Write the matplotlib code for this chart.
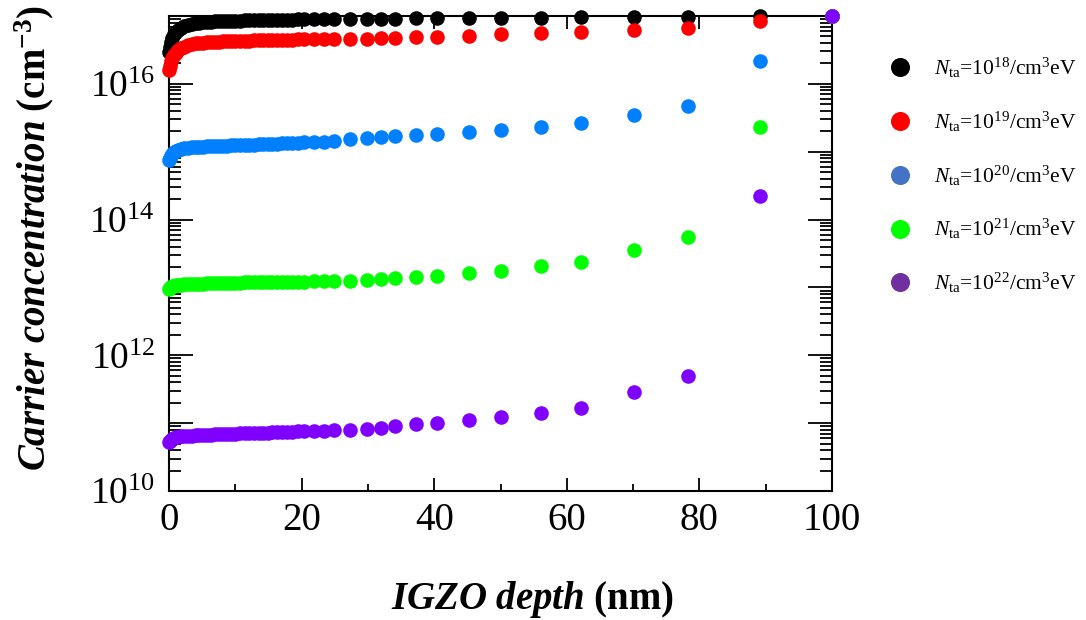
import numpy as np
import matplotlib
matplotlib.use("Agg")
import matplotlib.pyplot as plt
from matplotlib.ticker import LogLocator, FuncFormatter, MultipleLocator, NullFormatter
from matplotlib.lines import Line2D

plt.rcParams["font.family"] = ["Liberation Serif", "DejaVu Serif"]
plt.rcParams["mathtext.fontset"] = "custom"
plt.rcParams["mathtext.rm"] = "Liberation Serif"
plt.rcParams["mathtext.it"] = "Liberation Serif:italic"
plt.rcParams["mathtext.bf"] = "Liberation Serif:bold"
plt.rcParams["mathtext.bfit"] = "Liberation Serif:italic:bold"

# IGZO depth mesh (nm)
depth = [0, 0.1, 0.25, 0.45, 0.7, 1.0, 1.4, 1.8, 2.3, 2.8,
         3.4, 4.0, 4.6, 5.2, 5.8, 6.4, 7.0, 7.6, 8.2, 8.8,
         9.4, 10.0, 10.7, 11.4, 12.1, 12.8, 13.5, 14.2, 14.9, 15.6,
         16.3, 17.0, 17.8, 18.6, 19.4, 20.3, 21.8, 23.4, 24.9, 27.3,
         29.9, 32.0, 34.1, 37.2, 40.4, 45.2, 50.0, 56.1, 62.1, 70.1,
         78.3, 89.1, 100.0]

# log10 of carrier concentration (cm^-3) for each tail-state density
log_n_1e18 = [16.47, 16.55, 16.62, 16.68, 16.73, 16.77, 16.80, 16.83, 16.85, 16.87,
              16.88, 16.89, 16.90, 16.905, 16.91, 16.915, 16.92, 16.92, 16.925, 16.925,
              16.93, 16.93, 16.93, 16.935, 16.935, 16.935, 16.94, 16.94, 16.94, 16.94,
              16.945, 16.945, 16.945, 16.945, 16.95, 16.95, 16.95, 16.95, 16.955, 16.955,
              16.96, 16.96, 16.96, 16.965, 16.965, 16.97, 16.97, 16.975, 16.98, 16.985,
              16.99, 16.995, 17.0]

log_n_1e19 = [16.21, 16.27, 16.33, 16.38, 16.42, 16.46, 16.50, 16.53, 16.55, 16.57,
              16.585, 16.595, 16.60, 16.605, 16.61, 16.615, 16.62, 16.62, 16.625, 16.625,
              16.63, 16.63, 16.63, 16.635, 16.635, 16.64, 16.64, 16.64, 16.645, 16.645,
              16.645, 16.65, 16.65, 16.65, 16.655, 16.655, 16.66, 16.66, 16.665, 16.66,
              16.665, 16.67, 16.675, 16.685, 16.695, 16.71, 16.73, 16.75, 16.765, 16.80,
              16.83, 16.92, 17.0]

log_n_1e20 = [14.88, 14.91, 14.94, 14.97, 14.99, 15.01, 15.03, 15.045, 15.055, 15.06,
              15.065, 15.07, 15.072, 15.075, 15.077, 15.08, 15.082, 15.085, 15.087, 15.09,
              15.092, 15.095, 15.097, 15.10, 15.102, 15.105, 15.108, 15.11, 15.113, 15.116,
              15.12, 15.122, 15.125, 15.13, 15.133, 15.137, 15.143, 15.15, 15.16, 15.185,
              15.20, 15.215, 15.23, 15.25, 15.26, 15.29, 15.32, 15.37, 15.43, 15.54,
              15.67, 16.34, 17.0]

log_n_1e21 = [12.97, 12.99, 13.005, 13.015, 13.025, 13.03, 13.035, 13.04, 13.045, 13.048,
              13.05, 13.052, 13.054, 13.056, 13.058, 13.06, 13.062, 13.063, 13.065, 13.066,
              13.068, 13.07, 13.071, 13.073, 13.074, 13.075, 13.076, 13.077, 13.078, 13.079,
              13.08, 13.081, 13.082, 13.083, 13.084, 13.085, 13.088, 13.091, 13.095, 13.10,
              13.11, 13.12, 13.135, 13.15, 13.17, 13.21, 13.245, 13.315, 13.38, 13.555,
              13.74, 15.37, 17.0]

log_n_1e22 = [10.72, 10.74, 10.755, 10.77, 10.78, 10.79, 10.80, 10.805, 10.81, 10.813,
              10.816, 10.82, 10.823, 10.826, 10.829, 10.832, 10.835, 10.837, 10.84, 10.842,
              10.845, 10.847, 10.85, 10.852, 10.854, 10.856, 10.858, 10.86, 10.862, 10.864,
              10.866, 10.868, 10.871, 10.874, 10.877, 10.88, 10.885, 10.89, 10.895, 10.905,
              10.92, 10.935, 10.955, 10.985, 11.005, 11.045, 11.085, 11.15, 11.23, 11.46,
              11.69, 14.35, 17.0]

series = [log_n_1e18, log_n_1e19, log_n_1e20, log_n_1e21, log_n_1e22]
exponents = [18, 19, 20, 21, 22]
point_colors = ["#000000", "#FF0000", "#0080FF", "#00FF00", "#8000FF"]
legend_colors = ["#000000", "#FF0000", "#4472C4", "#00FF00", "#7030A0"]

fig = plt.figure(figsize=(10.86, 6.2), dpi=100)
ax = fig.add_axes([169 / 1086, 1 - 491 / 620, (832 - 169) / 1086, (491 - 16) / 620])

for vals, col in zip(series, point_colors):
    ax.plot(depth, 10 ** np.asarray(vals), linestyle="none", marker="o",
            markersize=10.5, markeredgewidth=0, color=col, clip_on=False, zorder=3)

ax.set_yscale("log")
ax.set_xlim(0, 100)
ax.set_ylim(1e10, 1e17)

ax.xaxis.set_major_locator(MultipleLocator(20))
ax.xaxis.set_minor_locator(MultipleLocator(10))
ax.yaxis.set_major_locator(LogLocator(base=10, numticks=20))
ax.yaxis.set_minor_locator(LogLocator(base=10, subs=np.arange(2, 10), numticks=20))
ax.yaxis.set_minor_formatter(NullFormatter())


def even_decade(v, pos):
    e = int(round(np.log10(v)))
    return r"$\mathdefault{10^{%d}}$" % e if e % 2 == 0 else ""


ax.yaxis.set_major_formatter(FuncFormatter(even_decade))

for s in ax.spines.values():
    s.set_linewidth(1.5)

ax.tick_params(which="both", direction="in", left=True, right=True, top=True, bottom=True,
               width=1.3)
ax.tick_params(axis="y", which="major", length=17, pad=10, labelsize=27)
ax.tick_params(axis="y", which="minor", length=8.6)
ax.tick_params(axis="x", which="major", length=9.5, pad=8, labelsize=28)
ax.tick_params(axis="x", which="minor", length=5)

fig.text(34 / 1086, 1 - 238 / 620,
         r"$\mathbfit{Carrier\ concentration}\ \mathbf{(cm^{-3})}$",
         rotation=90, ha="center", va="center", fontsize=28)
fig.text(532 / 1086, 1 - 600 / 620,
         r"$\mathbfit{IGZO\ depth}\ \mathbf{(nm)}$",
         ha="center", va="center", fontsize=28)

handles = [Line2D([], [], linestyle="none", marker="o", markersize=13.7,
                  markeredgewidth=0, color=c) for c in legend_colors]
labels = [r"$N_{\mathrm{ta}}$=10$^{%d}$/cm$^{3}$eV" % e for e in exponents]
fig.legend(handles, labels, loc="upper left", bbox_to_anchor=(889 / 1086, 1 - 56 / 620),
           frameon=False, fontsize=15.5, handlelength=1.0, handletextpad=1.09,
           labelspacing=1.37, borderpad=0, borderaxespad=0)

fig.savefig("out.png", dpi=100)
